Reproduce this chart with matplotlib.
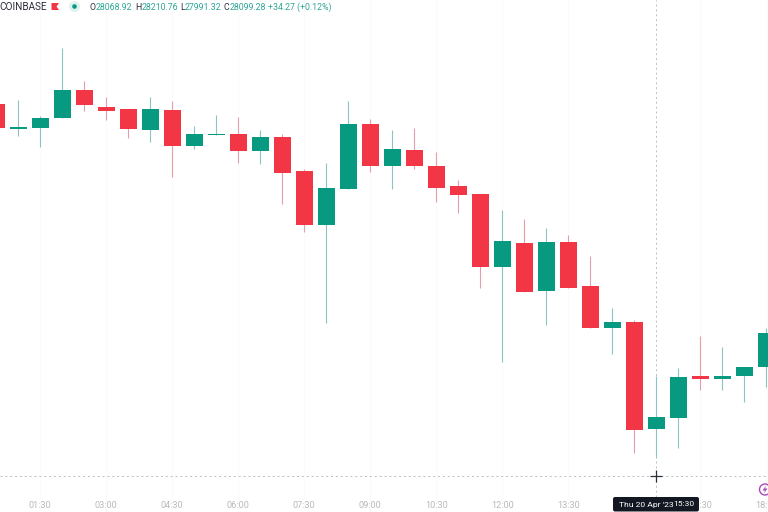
import matplotlib
matplotlib.use("Agg")
import matplotlib.pyplot as plt
from matplotlib.patches import FancyBboxPatch, Circle, Polygon
from matplotlib.transforms import IdentityTransform

# Candle times in hours of the day, every 30 minutes
times = [0.5, 1.0, 1.5, 2.0, 2.5, 3.0, 3.5, 4.0, 4.5, 5.0, 5.5, 6.0,
         6.5, 7.0, 7.5, 8.0, 8.5, 9.0, 9.5, 10.0, 10.5, 11.0, 11.5, 12.0,
         12.5, 13.0, 13.5, 14.0, 14.5, 15.0, 15.5, 16.0, 16.5, 17.0, 17.5, 18.0]
opens = [28945, 28878, 28880, 28907, 28983, 28937, 28932, 28875, 28929, 28832, 28861, 28864,
         28818, 28856, 28764, 28618, 28716, 28891, 28778, 28821, 28778, 28724, 28702, 28505,
         28570, 28440, 28573, 28454, 28340, 28357, 28068.92, 28097, 28211, 28203, 28211, 28235]
closes = [28880, 28880, 28907, 28983, 28942, 28926, 28878, 28932, 28832, 28864, 28864, 28818,
          28856, 28759, 28618, 28718, 28891, 28778, 28824, 28778, 28718, 28699, 28505, 28575,
          28438, 28573, 28448, 28340, 28357, 28065, 28099.28, 28208, 28203, 28211, 28235, 28327]
highs = [28956, 28956, 28913, 29096, 29007, 28964, 28932, 28964, 28953, 28886, 28916, 28910,
         28875, 28864, 28770, 28786, 28953, 28905, 28875, 28880, 28816, 28740, 28702, 28659,
         28635, 28610, 28591, 28535, 28394, 28362, 28210.76, 28232, 28319, 28289, 28235, 28340]
lows = [28869, 28859, 28829, 28907, 28926, 28902, 28853, 28843, 28748, 28824, 28861, 28786,
        28783, 28675, 28600, 28354, 28716, 28762, 28716, 28770, 28681, 28651, 28448, 28249,
        28438, 28349, 28448, 28340, 28270, 28003, 27991.32, 28016, 28173, 28173, 28141, 28181]
tick_hours = [1.5, 3.0, 4.5, 6.0, 7.5, 9.0, 10.5, 12.0, 13.5, 16.5, 18.0]
tick_labels = ["01:30", "03:00", "04:30", "06:00", "07:30", "09:00",
               "10:30", "12:00", "13:30", "16:30", "18:00"]
cross_hour = 15.5
cross_price = 27941

GREEN = "#089981"
RED = "#F23645"
WICK_GREEN = "#8cc4c0"
WICK_RED = "#e59ea8"
HEADER_GREEN = "#2fa596"
FONT = ["Roboto", "DejaVu Sans"]
W, H = 768, 512

fig = plt.figure(figsize=(W / 100, H / 100), dpi=100, facecolor="white")
ax = fig.add_axes([0, 0, 1, 1])
ax.set_xlim(0.5850, 18.040)
ax.set_ylim(27843.6, 29226)
ax.axis("off")

# Very faint vertical grid
for th in tick_hours:
    ax.axvline(th, color="#fbfbfc", lw=0.8, zorder=0)

# Candles
for t, o, c, h, l in zip(times, opens, closes, highs, lows):
    up = c >= o
    ax.vlines(t, l, h, color=WICK_GREEN if up else WICK_RED, lw=0.8, zorder=2)
    ax.bar(t, max(abs(c - o), 4), bottom=min(o, c), width=0.385, color=GREEN if up else RED, lw=0, zorder=3)

# Crosshair
ax.axhline(cross_price, color="#b8bcc4", lw=0.7, ls=(0, (2, 3)), zorder=1)
ax.plot([cross_hour, cross_hour], [27885, 29226], color="#b8bcc4", lw=0.7, ls=(0, (2, 3)), zorder=1)
ax.plot([cross_hour], [cross_price], marker="+", ms=8, mew=0.9, color="#2a2e39", zorder=5)


def px_text(x, y, s, **kw):
    kw.setdefault("family", FONT)
    kw.setdefault("fontsize", 6.3)
    kw.setdefault("va", "center")
    fig.text(x / W, 1 - y / H, s, **kw)


# Time axis labels
for th, lab in zip(tick_hours, tick_labels):
    ax.annotate(lab, (th, 0), xycoords=("data", "axes fraction"), xytext=(0, 7), textcoords="offset pixels",
                ha="center", va="center", fontsize=6.6, color="#b8babe", family=FONT, zorder=2, annotation_clip=False)

# Date tooltip
tip = FancyBboxPatch((613, 0.5), 86, 14.5, boxstyle="round,pad=0,rounding_size=2",
                     transform=IdentityTransform(), fc="#131722", ec="none", zorder=6)
ax.add_patch(tip)
px_text(619, 504.5, "Thu 20 Apr '23", color="white", ha="left", fontsize=6.1, zorder=7)
px_text(694, 504.5, "15:30", color="white", ha="right", fontsize=6.1, zorder=7)

# Header
px_text(-1, 7, "COINBASE", color="#2a2e39", fontsize=7.2)
flag = Polygon([(51.5, H - 3), (59, H - 3), (56.5, H - 6.5), (59, H - 10), (51.5, H - 10)],
               transform=IdentityTransform(), fc=RED, ec="none", zorder=6)
ax.add_patch(flag)
ax.add_patch(Circle((74.5, H - 6.5), 5.5, transform=IdentityTransform(), fc=GREEN, alpha=0.12, ec="none", zorder=6))
ax.add_patch(Circle((74.5, H - 6.5), 2.3, transform=IdentityTransform(), fc=GREEN, ec="none", zorder=7))
for x, s, col in [(89, "O", "#2a2e39"), (96, "28068.92", HEADER_GREEN), (135, "H", "#2a2e39"), (142, "28210.76", HEADER_GREEN),
                  (180, "L", "#2a2e39"), (185, "27991.32", HEADER_GREEN), (224, "C", "#2a2e39"), (230, "28099.28", HEADER_GREEN),
                  (268, "+34.27 (+0.12%)", HEADER_GREEN)]:
    px_text(x, 7, s, color=col)

# Purple badge at the lower right
ax.add_patch(Circle((765, H - 489.5), 5.5, transform=IdentityTransform(), fc="white", ec="#ab47bc", lw=1, zorder=6))
ax.add_patch(Polygon([(766, H - 485.5), (762.5, H - 490.5), (765, H - 490.5), (764, H - 493.5), (767.5, H - 488.5), (765, H - 488.5)],
                     transform=IdentityTransform(), fc="#ab47bc", ec="none", zorder=7))

fig.savefig("out.png", dpi=100, facecolor="white")
